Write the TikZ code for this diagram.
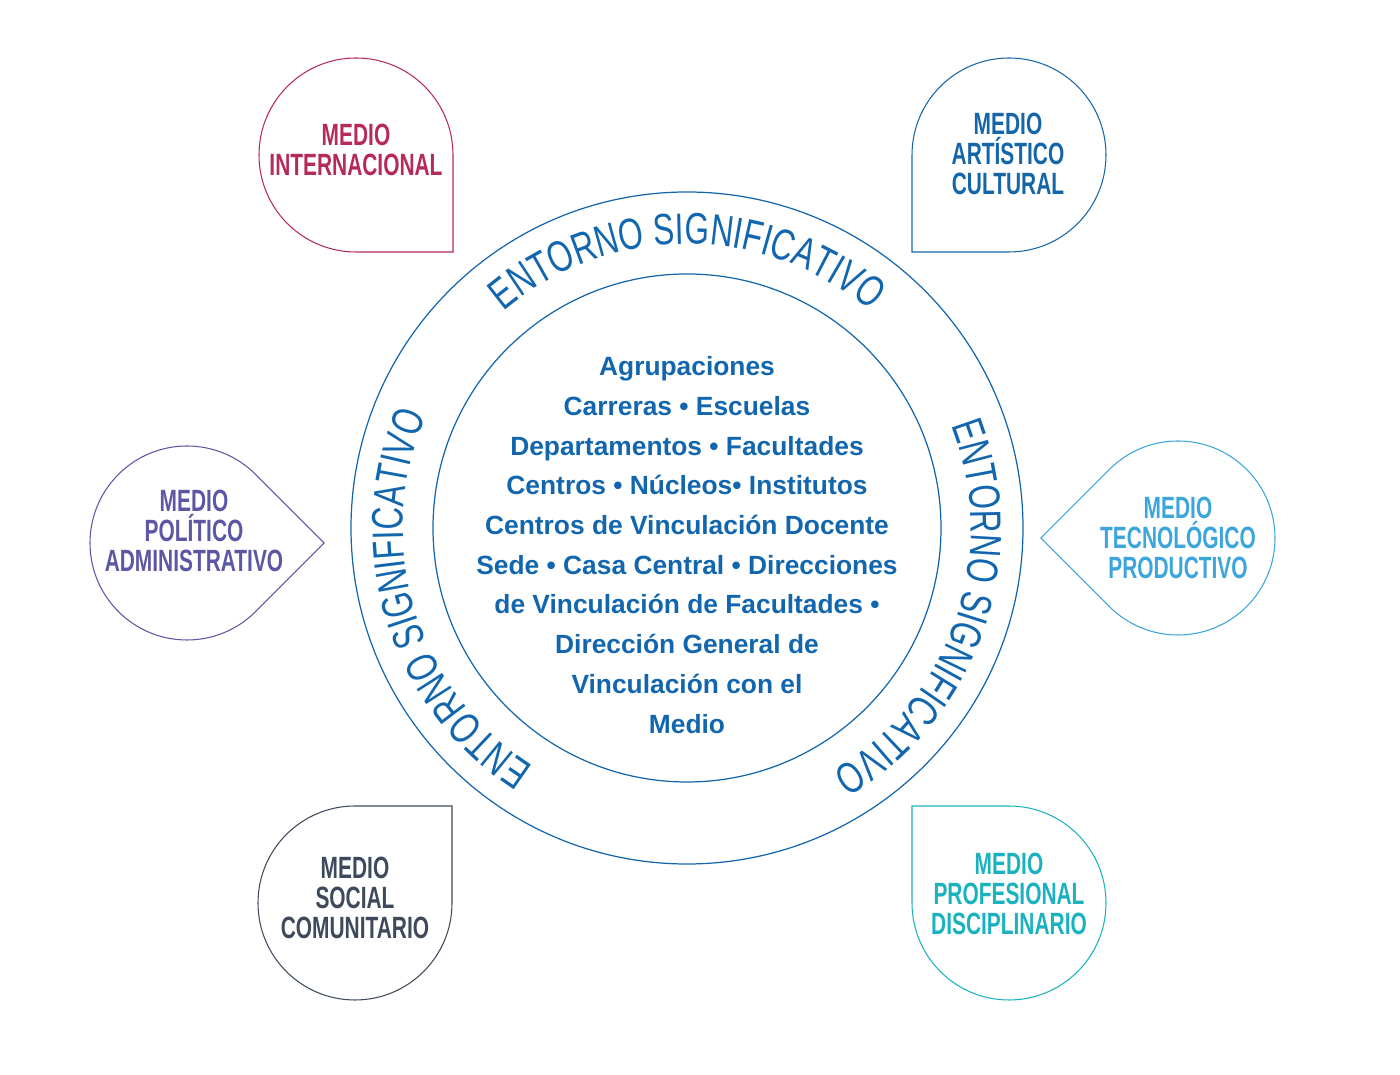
\documentclass[tikz,border=0pt]{standalone}
\usepackage{fontspec}
\setmainfont{Liberation Sans}
\newfontfamily\cond[FakeStretch=0.68]{Liberation Sans}
\newfontfamily\condarc[FakeStretch=0.72]{Liberation Sans}
\usetikzlibrary{decorations.text}
\definecolor{cInt}{HTML}{B62A5B}
\definecolor{cArt}{HTML}{1466A8}
\definecolor{cPol}{HTML}{5B57A4}
\definecolor{cTec}{HTML}{3BA5DC}
\definecolor{cSoc}{HTML}{3E4A5B}
\definecolor{cPro}{HTML}{1BB2BF}
\definecolor{cMain}{HTML}{1266AE}
\begin{document}
\begin{tikzpicture}[x=0.02cm,y=0.02cm,
  drop/.style={line width=0.6pt},
  lab/.style={font=\cond\bfseries\fontsize{17.5}{17}\selectfont,align=center},
  ring/.style={draw=cMain,line width=0.7pt}]
\useasboundingbox (0,0) rectangle (1400,1075);
\newcommand{\drop}[5]{% name, x, y, rot, colour
  \begin{scope}[shift={(#2,#3)},rotate=#4]
    \draw[drop,draw=#5] (97,0) arc[start angle=0,end angle=270,radius=97] -- (97,-97) -- cycle;
  \end{scope}}
\drop{int}{356}{920}{0}{cInt}
\drop{art}{1009}{920}{-90}{cArt}
\drop{soc}{355}{172}{90}{cSoc}
\drop{pro}{1009}{172}{180}{cPro}
\drop{pol}{187}{532}{45}{cPol}
\drop{tec}{1178}{537}{225}{cTec}
\node[lab,text=cInt] (tint) at (356,925) {MEDIO\\INTERNACIONAL};
\node[lab,text=cArt] (tart) at (1008,921) {MEDIO\\ARTÍSTICO\\CULTURAL};
\node[lab,text=cSoc] (tsoc) at (355,177) {MEDIO\\SOCIAL\\COMUNITARIO};
\node[lab,text=cPro] (tpro) at (1009,181) {MEDIO\\PROFESIONAL\\DISCIPLINARIO};
\node[lab,text=cPol] (tpol) at (194,544) {MEDIO\\POLÍTICO\\ADMINISTRATIVO};
\node[lab,text=cTec] (ttec) at (1178,537) {MEDIO\\TECNOLÓGICO\\PRODUCTIVO};
\node[ring,circle,minimum size=672*0.02cm,inner sep=0] (outer) at (687,547) {};
\node[ring,circle,minimum size=508*0.02cm,inner sep=0] (inner) at (687,547) {};
\path[decorate,decoration={text along path,text align=center,
  text={|\condarc\fontsize{25}{25}\selectfont\color{cMain}|ENTORNO SIGNIFICATIVO}}]
  (687,547) ++(142:284) arc[start angle=142,end angle=38,radius=284];
\path[decorate,decoration={text along path,text align=center,
  text={|\condarc\fontsize{25}{25}\selectfont\color{cMain}|ENTORNO SIGNIFICATIVO}}]
  (687,547) ++(28:284) arc[start angle=28,end angle=-66,radius=284];
\path[decorate,decoration={text along path,text align=center,
  text={|\condarc\fontsize{25}{25}\selectfont\color{cMain}|ENTORNO SIGNIFICATIVO}}]
  (687,547) ++(244:284) arc[start angle=244,end angle=150,radius=284];
\node[align=center,text=cMain,font=\bfseries\fontsize{15}{22.6}\selectfont] (body) at (687,530)
 {Agrupaciones\\Carreras \textbullet{} Escuelas\\Departamentos \textbullet{} Facultades\\Centros \textbullet{} Núcleos\textbullet{} Institutos\\Centros de Vinculación Docente\\Sede \textbullet{} Casa Central \textbullet{} Direcciones\\de Vinculación de Facultades \textbullet\\Dirección General de\\Vinculación con el\\Medio};
\end{tikzpicture}
\end{document}
